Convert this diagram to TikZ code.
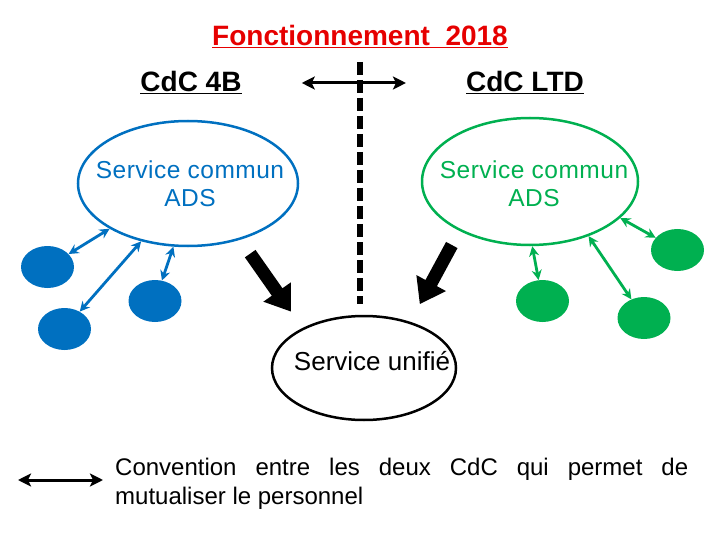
\documentclass[tikz,border=0pt]{standalone}
\usepackage{fontspec}
\setmainfont{Liberation Sans}
\usetikzlibrary{arrows.meta,shapes.geometric}
\definecolor{bleu}{RGB}{0,112,192}
\definecolor{vert}{RGB}{0,176,80}
\definecolor{rouge}{RGB}{230,0,0}
\tikzset{
  titre/.style      = {text=rouge,font=\fontsize{28}{32}\selectfont\bfseries,inner sep=0pt},
  cdc/.style        = {font=\fontsize{28}{32}\selectfont\bfseries,inner sep=0pt},
  texte/.style      = {align=center,font=\fontsize{24.5}{28}\selectfont\addfontfeature{LetterSpace=2},inner sep=0pt},
  adsbleu/.style    = {ellipse,draw=bleu,line width=2.5pt,minimum width=220pt,minimum height=125pt,inner sep=0pt},
  adsvert/.style    = {ellipse,draw=vert,line width=2.5pt,minimum width=216pt,minimum height=127pt,inner sep=0pt},
  unifie/.style     = {ellipse,draw,line width=2.5pt,minimum width=184pt,minimum height=104pt,inner sep=0pt},
  communebleu/.style= {ellipse,fill=bleu,minimum width=53pt,minimum height=42pt,inner sep=0pt},
  communevert/.style= {ellipse,fill=vert,minimum width=53pt,minimum height=42pt,inner sep=0pt},
  lienbleu/.style   = {{Stealth[length=10pt,width=10pt]}-{Stealth[length=10pt,width=10pt]},line width=2.8pt,draw=bleu},
  lienvert/.style   = {{Stealth[length=10pt,width=10pt]}-{Stealth[length=10pt,width=10pt]},line width=2.8pt,draw=vert},
  transfert/.style  = {-{Triangle[length=24pt,width=32pt]},line width=13pt},
  convention/.style = {{Stealth[length=13pt,width=13pt,inset=3pt]}-{Stealth[length=13pt,width=13pt,inset=3pt]},line width=3pt},
  legende/.style    = {font=\fontsize{24}{28.5}\selectfont,text width=573pt,align=justify,inner sep=0pt},
}

\begin{document}
\begin{tikzpicture}[x=1pt,y=-1pt]
\useasboundingbox (0,0) rectangle (720,540);
% titres
\node[titre,anchor=base] (titre) at (360,46) {\underline{Fonctionnement\ \ 2018}};
\node[cdc,anchor=base] (cdc4b) at (191,92) {\underline{CdC 4B}};
\node[cdc,anchor=base] (cdcltd) at (525,92) {\underline{CdC LTD}};
\draw[convention] (cdc4b.east) -- (cdcltd.west)
  [shorten <=60pt,shorten >=60pt];
% services
\node[adsbleu] (ads4b)  at (188,183.5) {};
\node[texte,text=bleu] (txt4b) at (190,184) {Service commun\\ADS};
\node[adsvert] (adsltd) at (530,181.5) {};
\node[texte,text=vert] (txtltd) at (534,184) {Service commun\\ADS};
\node[unifie]  (unif)   at (364,368)  {};
\node[texte,font=\fontsize{26}{30}\selectfont] (txtunif) at (372,361) {Service unifié};
% separation
\coordinate (haut) at (360,62);
\draw[line width=6pt,dash pattern=on 13pt off 5pt] (haut) -- (haut |- unif.north)
  [shorten >=11pt];
% communes CdC 4B
\node[communebleu] (b1) at (47.5,267) {};
\node[communebleu] (b2) at (155,301) {};
\node[communebleu] (b3) at (64.5,329) {};
\draw[lienbleu] (ads4b.210) -- (b1);
\draw[lienbleu] (ads4b.231) -- (b3);
\draw[lienbleu] (ads4b.257) -- (b2);
% communes CdC LTD
\node[communevert] (v1) at (677.5,250) {};
\node[communevert] (v2) at (542.5,301) {};
\node[communevert] (v3) at (644,318) {};
\draw[lienvert] (adsltd.338) -- (v1);
\draw[lienvert] (adsltd.317) -- (v3);
\draw[lienvert] (adsltd.272) -- (v2);
% vers le service unifie
\draw[transfert,shorten <=17pt,shorten >=20pt] (ads4b.-47) -- (unif.147);
\draw[transfert,shorten <=16pt,shorten >=20pt] (adsltd.215) -- (unif.45);
% legende
\coordinate (convA) at (18,480);
\coordinate (convB) at (103,480);
\draw[convention] (convA) -- (convB);
\node[legende,anchor=north west] (legende) at (115,458)
  {Convention entre les deux CdC qui permet de\linebreak mutualiser le personnel};
\end{tikzpicture}
\end{document}
